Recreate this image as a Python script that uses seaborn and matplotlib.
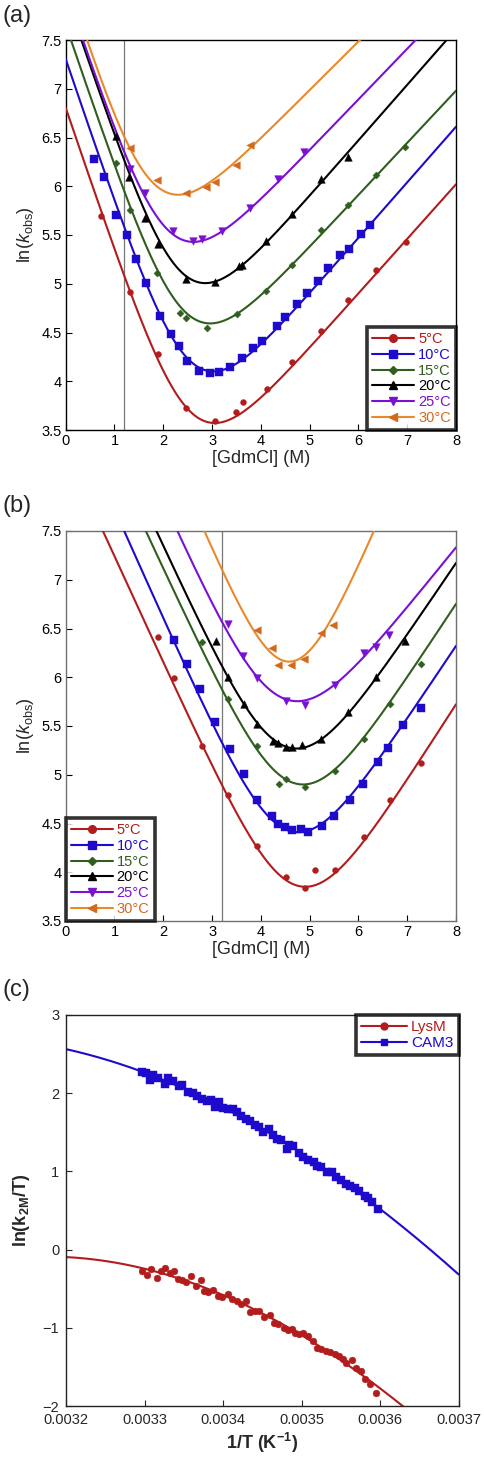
import numpy as np
import pandas as pd
import matplotlib
matplotlib.use("Agg")
import matplotlib.pyplot as plt
from matplotlib.lines import Line2D
import seaborn as sns

# ---------------- data ----------------
temps = ["5°C", "10°C", "15°C", "20°C", "25°C", "30°C"]

# panel (a): ln(kobs) vs [GdmCl]
a_x_5 = [0.72, 1.32, 1.885, 2.47, 3.05, 3.50, 3.63, 4.12, 4.64, 5.23, 5.78, 6.37, 6.97]
a_y_5 = [5.69, 4.92, 4.28, 3.73, 3.59, 3.68, 3.785, 3.92, 4.20, 4.52, 4.83, 5.14, 5.43]
a_x_10 = [0.59, 0.79, 1.04, 1.26, 1.44, 1.65, 1.93, 2.15, 2.32, 2.49, 2.74, 2.96, 3.15, 3.36,
          3.61, 3.83, 4.02, 4.34, 4.50, 4.75, 4.95, 5.18, 5.38, 5.62, 5.80, 6.05, 6.23]
a_y_10 = [6.28, 6.10, 5.71, 5.50, 5.25, 5.01, 4.67, 4.48, 4.36, 4.21, 4.11, 4.08, 4.10, 4.15,
          4.24, 4.34, 4.41, 4.57, 4.66, 4.79, 4.91, 5.03, 5.16, 5.30, 5.36, 5.51, 5.60]
a_x_15 = [1.04, 1.32, 1.88, 2.35, 2.46, 2.90, 3.52, 4.105, 4.64, 5.23, 5.78, 6.37, 6.96]
a_y_15 = [6.24, 5.76, 5.11, 4.70, 4.65, 4.55, 4.69, 4.93, 5.19, 5.55, 5.81, 6.12, 6.40]
a_x_20 = [1.03, 1.305, 1.63, 1.885, 2.47, 3.07, 3.55, 3.61, 4.105, 4.64, 5.23, 5.78]
a_y_20 = [6.52, 6.09, 5.67, 5.41, 5.05, 5.02, 5.18, 5.19, 5.44, 5.72, 6.07, 6.30]
a_x_25 = [1.32, 1.63, 2.20, 2.60, 2.80, 3.20, 3.78, 4.35, 4.89]
a_y_25 = [6.18, 5.93, 5.54, 5.44, 5.46, 5.54, 5.78, 6.07, 6.35]
a_x_30 = [1.32, 1.865, 2.46, 2.87, 3.06, 3.50, 3.78]
a_y_30 = [6.39, 6.06, 5.93, 5.99, 6.04, 6.22, 6.42]

# chevron fit parameters (a)
a_lnkf = [6.80, 7.30, 7.65, 7.96, 8.00, 8.13]
a_mf = [1.48, 1.48, 1.48, 1.48, 1.50, 1.58]
a_lnku = [1.54, 2.05, 2.70, 3.05, 3.77, 4.485]
a_mu = [0.56, 0.57, 0.535, 0.57, 0.52, 0.50]

# panel (b)
b_x_5 = [1.885, 2.21, 2.80, 3.33, 3.93, 4.515, 4.91, 5.10, 5.52, 6.11, 6.65, 7.275]
b_y_5 = [6.41, 5.99, 5.30, 4.79, 4.27, 3.95, 3.84, 4.02, 4.02, 4.36, 4.74, 5.12]
b_x_10 = [2.21, 2.49, 2.75, 3.07, 3.37, 3.65, 3.93, 4.22, 4.36, 4.50, 4.64, 4.82, 4.97,
          5.25, 5.50, 5.83, 6.10, 6.40, 6.61, 6.92, 7.275]
b_y_10 = [6.38, 6.14, 5.88, 5.54, 5.26, 5.01, 4.74, 4.58, 4.49, 4.46, 4.43, 4.44, 4.41,
          4.47, 4.58, 4.74, 4.91, 5.13, 5.27, 5.51, 5.68]
b_x_15 = [2.80, 3.33, 3.93, 4.365, 4.515, 4.91, 5.51, 6.11, 6.65, 7.275]
b_y_15 = [6.36, 5.78, 5.30, 4.91, 4.96, 4.87, 5.04, 5.37, 5.73, 6.14]
b_x_20 = [3.09, 3.33, 3.65, 3.93, 4.255, 4.36, 4.515, 4.64, 4.84, 5.23, 5.78, 6.37, 6.96]
b_y_20 = [6.37, 6.00, 5.73, 5.52, 5.35, 5.33, 5.28, 5.28, 5.31, 5.37, 5.64, 6.00, 6.37]
b_x_25 = [3.32, 3.63, 3.93, 4.515, 4.91, 5.51, 6.11, 6.37, 6.63]
b_y_25 = [6.55, 6.22, 5.99, 5.76, 5.72, 5.92, 6.25, 6.31, 6.43]
b_x_30 = [3.93, 4.235, 4.36, 4.62, 4.89, 5.23, 5.485]
b_y_30 = [6.48, 6.30, 6.13, 6.13, 6.19, 6.45, 6.54]

b_lnkf = [8.33, 8.84, 9.27, 9.52, 10.04, 10.78]
b_mf = [1.09, 1.12, 1.08, 1.09, 1.12, 1.16]
b_lnku = [-0.52, 0.32, 0.67, 1.25, 2.37, 0.154]
b_mu = [0.78, 0.75, 0.76, 0.74, 0.62, 1.16]

# panel (c): ln(k2M/T) vs 1/T
lysm_x = [0.003296, 0.003303, 0.003308, 0.003316, 0.003321, 0.003326, 0.003332, 0.003337,
          0.003342, 0.003347, 0.003353, 0.003359, 0.003365, 0.003371, 0.003376, 0.003381,
          0.003387, 0.003393, 0.003399, 0.003406, 0.003411, 0.003417, 0.003423, 0.003429,
          0.003434, 0.003440, 0.003446, 0.003452, 0.003460, 0.003465, 0.003470, 0.003477,
          0.003482, 0.003487, 0.003491, 0.003497, 0.003502, 0.003508, 0.003514, 0.003519,
          0.003525, 0.003531, 0.003536, 0.003542, 0.003547, 0.003552, 0.003557, 0.003564,
          0.003569, 0.003576, 0.003581, 0.003587, 0.003594]
lysm_y = [-0.277, -0.328, -0.243, -0.362, -0.268, -0.234, -0.298, -0.277,
          -0.370, -0.383, -0.413, -0.340, -0.468, -0.383, -0.532, -0.540,
          -0.511, -0.596, -0.609, -0.566, -0.638, -0.660, -0.702, -0.660,
          -0.796, -0.787, -0.779, -0.864, -0.838, -0.936, -0.957, -1.000,
          -1.034, -1.021, -1.064, -1.077, -1.064, -1.106, -1.170, -1.255,
          -1.277, -1.298, -1.306, -1.332, -1.362, -1.404, -1.447, -1.417,
          -1.511, -1.553, -1.660, -1.723, -1.830]
cam3_x = [0.003296, 0.003302, 0.003307, 0.003311, 0.003317, 0.003326, 0.003330, 0.003336,
          0.003343, 0.003348, 0.003355, 0.003361, 0.003367, 0.003373, 0.003379, 0.003384,
          0.003389, 0.003395, 0.003400, 0.003406, 0.003413, 0.003417, 0.003423, 0.003429,
          0.003434, 0.003440, 0.003446, 0.003451, 0.003458, 0.003463, 0.003468, 0.003474,
          0.003481, 0.003484, 0.003489, 0.003496, 0.003502, 0.003508, 0.003515, 0.003520,
          0.003525, 0.003532, 0.003538, 0.003544, 0.003550, 0.003556, 0.003561, 0.003568,
          0.003573, 0.003580, 0.003585, 0.003590, 0.003597]
cam3_y = [2.276, 2.255, 2.170, 2.233, 2.191, 2.119, 2.191, 2.161,
          2.093, 2.106, 2.021, 1.999, 1.965, 1.923, 1.906, 1.914,
          1.829, 1.893, 1.808, 1.795, 1.795, 1.765, 1.710, 1.667,
          1.650, 1.595, 1.573, 1.509, 1.539, 1.467, 1.412, 1.403,
          1.284, 1.339, 1.326, 1.233, 1.190, 1.147, 1.126, 1.071,
          1.054, 0.998, 0.998, 0.934, 0.892, 0.841, 0.807, 0.785,
          0.743, 0.688, 0.658, 0.615, 0.517]

a_ref_line = 1.2
b_ref_line = 3.2

# ---------------- styling ----------------
sns.set_style("ticks")
plt.rcParams["font.family"] = ["Liberation Sans", "DejaVu Sans"]
plt.rcParams["mathtext.fontset"] = "custom"
plt.rcParams["mathtext.rm"] = "Liberation Sans"
plt.rcParams["mathtext.it"] = "Liberation Sans:italic"
plt.rcParams["mathtext.bf"] = "Liberation Sans:bold"

colors = ["#b21c1c", "#1e0acc", "#2f5e1f", "#000000", "#7a10d4", "#e8892c"]
mcolors = ["#b21c1c", "#1e0acc", "#2f5e1f", "#000000", "#7a10d4", "#d4691e"]
markers = ["o", "s", "D", "^", "v", "<"]
msizes = [18, 30, 13, 30, 30, 30]


def eyring_fit(z, y):
    z = np.asarray(z, float)
    zs = z / 0.0033
    M = np.column_stack([np.ones_like(zs), zs, np.log(zs)])
    p, *_ = np.linalg.lstsq(M, np.asarray(y, float), rcond=None)
    return p


def eyring_eval(p, z):
    zs = np.asarray(z) / 0.0033
    return p[0] + p[1] * zs + p[2] * np.log(zs)


W, H = 485, 1462
fig = plt.figure(figsize=(W / 100, H / 100), dpi=100)

ax_a = fig.add_axes([65.7 / W, 1 - 430 / H, 390.3 / W, 390 / H])
ax_b = fig.add_axes([65.7 / W, 1 - 921 / H, 390.3 / W, 390 / H])
ax_c = fig.add_axes([66.3 / W, 1 - 1406 / H, 392.4 / W, 391 / H])

TICK_FS = 10.5
LABEL_FS = 13


def chevron_panel(ax, xs, ys, pars, ref, frame_color, legend_loc):
    lnkf, mf, lnku, mu = pars
    xx = np.linspace(0, 8, 600)
    for i in range(6):
        yy = np.log(np.exp(lnkf[i] - mf[i] * xx) + np.exp(lnku[i] + mu[i] * xx))
        keep = yy < 8.2
        sns.lineplot(x=xx[keep], y=yy[keep], ax=ax, color=colors[i], lw=1.5,
                     sort=False, estimator=None, legend=False, zorder=3)
    for i in range(6):
        sns.scatterplot(x=xs[i], y=ys[i], ax=ax, color=mcolors[i], marker=markers[i],
                        s=msizes[i], edgecolor=mcolors[i], linewidth=0.3,
                        legend=False, zorder=4)
    ax.axvline(ref, color="#777777", lw=0.9, zorder=1)
    ax.set_xlim(0, 8)
    ax.set_ylim(3.5, 7.5)
    ax.set_xticks(range(0, 9))
    ax.set_yticks(np.arange(3.5, 7.51, 0.5))
    ax.set_yticklabels([f"{v:g}" for v in np.arange(3.5, 7.51, 0.5)])
    ax.tick_params(direction="in", length=4, width=0.8, labelsize=TICK_FS, pad=3,
                   colors="black")
    for sp in ax.spines.values():
        sp.set_visible(True)
        sp.set_color(frame_color)
        sp.set_linewidth(1.0)
    ax.set_xlabel("[GdmCl] (M)", fontsize=LABEL_FS, labelpad=1)
    ax.set_ylabel(r"ln($k$$_{\rm obs}$)", fontsize=LABEL_FS, labelpad=4)
    handles = [Line2D([0], [0], color=colors[i], marker=markers[i],
                      markersize=5.5 if markers[i] != "D" else 4,
                      markerfacecolor=mcolors[i], markeredgecolor=mcolors[i], lw=1.5)
               for i in range(6)]
    leg = ax.legend(handles, temps, loc=legend_loc, fontsize=10.5, frameon=True,
                    fancybox=False, borderaxespad=0.0, handlelength=2.9,
                    handletextpad=0.25, labelspacing=0.12, borderpad=0.35)
    leg.get_frame().set_edgecolor("black")
    leg.get_frame().set_linewidth(2.6)
    for t, c in zip(leg.get_texts(), mcolors):
        t.set_color(c)
    leg.set_zorder(10)


chevron_panel(ax_a,
              [a_x_5, a_x_10, a_x_15, a_x_20, a_x_25, a_x_30],
              [a_y_5, a_y_10, a_y_15, a_y_20, a_y_25, a_y_30],
              (a_lnkf, a_mf, a_lnku, a_mu),
              a_ref_line, "black", "lower right")
chevron_panel(ax_b,
              [b_x_5, b_x_10, b_x_15, b_x_20, b_x_25, b_x_30],
              [b_y_5, b_y_10, b_y_15, b_y_20, b_y_25, b_y_30],
              (b_lnkf, b_mf, b_lnku, b_mu),
              b_ref_line, "#707070", "lower left")

# panel (c)
zz = np.linspace(0.0032, 0.0037, 400)
p_l = eyring_fit(lysm_x, lysm_y)
p_c = eyring_fit(cam3_x, cam3_y)
red, blue = "#b21c1c", "#1e0acc"
sns.lineplot(x=zz, y=eyring_eval(p_l, zz), ax=ax_c, color=red, lw=1.5, sort=False,
             estimator=None, legend=False)
sns.lineplot(x=zz, y=eyring_eval(p_c, zz), ax=ax_c, color=blue, lw=1.5, sort=False,
             estimator=None, legend=False)
sns.scatterplot(x=lysm_x, y=lysm_y, ax=ax_c, color=red, marker="o", s=24,
                edgecolor=red, linewidth=0.3, legend=False, zorder=4)
sns.scatterplot(x=cam3_x, y=cam3_y, ax=ax_c, color=blue, marker="s", s=36,
                edgecolor=blue, linewidth=0.3, legend=False, zorder=4)
ax_c.set_xlim(0.0032, 0.0037)
ax_c.set_ylim(-2, 3)
xt = np.round(np.arange(0.0032, 0.00371, 0.0001), 4)
ax_c.set_xticks(xt)
ax_c.set_xticklabels([f"{v:.4f}" for v in xt])
ax_c.set_yticks(range(-2, 4))
ax_c.tick_params(direction="in", length=4, width=0.8, labelsize=TICK_FS, pad=5)
for sp in ax_c.spines.values():
    sp.set_visible(True)
    sp.set_color("#222222")
    sp.set_linewidth(1.0)
ax_c.set_xlabel(r"$\mathbf{1/T\ (K^{-1})}$", fontsize=LABEL_FS, labelpad=3)
ax_c.set_ylabel(r"$\mathbf{ln(k_{2M}/T)}$", fontsize=LABEL_FS, labelpad=8)
hc = [Line2D([0], [0], color=red, marker="o", markersize=5, lw=1.5),
      Line2D([0], [0], color=blue, marker="s", markersize=5, lw=1.5)]
legc = ax_c.legend(hc, ["LysM", "CAM3"], loc="upper right", fontsize=11, frameon=True,
                   fancybox=False, borderaxespad=0.0, handlelength=3.0,
                   handletextpad=0.25, labelspacing=0.1, borderpad=0.35)
legc.get_frame().set_edgecolor("black")
legc.get_frame().set_linewidth(2.6)
for t, c in zip(legc.get_texts(), [red, blue]):
    t.set_color(c)

for lab, ypx in [("(a)", 16), ("(b)", 506), ("(c)", 990)]:
    fig.text(3 / W, 1 - ypx / H, lab, fontsize=17, va="center", ha="left")

fig.savefig("out.png", dpi=100)
